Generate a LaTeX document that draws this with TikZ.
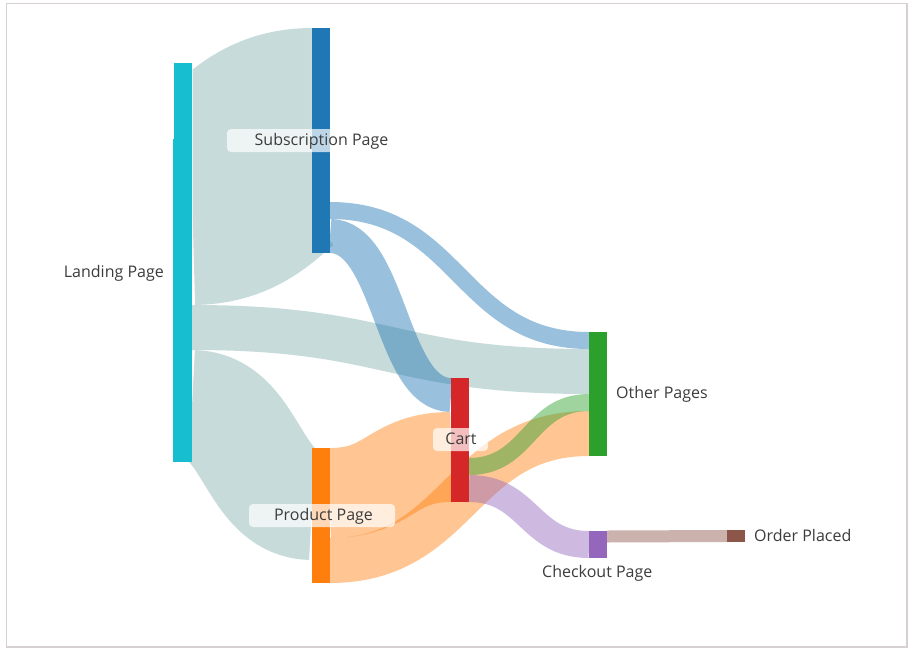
\documentclass[tikz,border=0pt]{standalone}
\usepackage{fontspec}
\setmainfont{Open Sans}
\definecolor{cland}{HTML}{17BECF}
\definecolor{csub}{HTML}{1F77B4}
\definecolor{cprod}{HTML}{FF7F0E}
\definecolor{ccart}{HTML}{D62728}
\definecolor{cother}{HTML}{2CA02C}
\definecolor{cchk}{HTML}{9467BD}
\definecolor{cord}{HTML}{8C564B}
\definecolor{cgreyl}{RGB}{133,177,175}
\definecolor{cgreymix}{RGB}{200,220,219}
\definecolor{ctxt}{RGB}{60,60,60}
\definecolor{cframe}{RGB}{214,208,211}
\tikzset{
  linkband/.style={draw=#1, draw opacity=0.45, line cap=butt, line join=round},
  nodebar/.style={fill=#1, draw=none},
  lbl/.style={text=ctxt, font=\fontsize{16}{19}\selectfont, inner sep=0pt},
  lblbox/.style={fill=white, fill opacity=0.7, draw=none, rounded corners=4pt},
}
\begin{document}
\begin{tikzpicture}[x=1pt,y=-1pt]
\useasboundingbox (0,0) rectangle (914,649);
\fill[white] (0,0) rectangle (914,649);
\draw[cframe, line width=1.3pt] (6.5,3.5) rectangle (907,647);

% ---- link end points (band centres) ----
\coordinate (ls) at (192,192.5);  \coordinate (st) at (312,140.5);
\coordinate (stx) at (320,140.5);
\coordinate (lo) at (192,327.5);  \coordinate (ol) at (589,371.5);
\coordinate (lp) at (192,406);    \coordinate (pl) at (312,504);
\coordinate (so) at (330,210.5);  \coordinate (os) at (589,340.5);
\coordinate (sc) at (330,236);    \coordinate (cs) at (451,395);
\coordinate (pc) at (330,493);    \coordinate (cp) at (451,457);
\coordinate (po) at (330,560.5);  \coordinate (op) at (589,433.5);
\coordinate (co) at (469,466.5);  \coordinate (oc) at (589,402.5);
\coordinate (ck) at (469,488.5);  \coordinate (kc) at (589,544.5);
\coordinate (kd) at (607,536.5);  \coordinate (dk) at (727,536);

% ---- links (stroked centre lines) ----
\begin{scope}
  \clip (192.5,0) rectangle (914,649);
  \draw[linkband=cgreyl, line width=225pt] (ls) .. controls (252,192.5) and (252,140.5) .. (st) -- (stx);
\end{scope}
\fill[cgreymix] (305,28.6) rectangle (313,132);
\draw[linkband=cgreyl, line width=45pt] (lo) .. controls (390.5,327.5) and (390.5,371.5) .. (ol);
\draw[linkband=cgreyl, line width=112pt] (lp) .. controls (252,406) and (252,504) .. (pl);
\draw[linkband=csub, line width=17pt] (so) .. controls (459.5,210.5) and (459.5,340.5) .. (os);
\draw[linkband=csub, line width=34pt] (sc) .. controls (390.5,236) and (390.5,395) .. (cs);
\draw[linkband=cprod, line width=90pt] (pc) .. controls (390.5,493) and (390.5,457) .. (cp);
\draw[linkband=cprod, line width=45pt] (po) .. controls (459.5,560.5) and (459.5,433.5) .. (op);
\draw[linkband=cother, line width=17pt] (co) .. controls (529,466.5) and (529,402.5) .. (oc);
\draw[linkband=cchk, line width=27pt] (ck) .. controls (529,488.5) and (529,544.5) .. (kc);
\draw[linkband=cord, line width=12pt] (kd) .. controls (667,536.5) and (667,536) .. (dk);

% ---- nodes ----
\path[nodebar=cland] (174,63) rectangle (192,139);
\path[nodebar=cland] (173,139) rectangle (192,462);
\node[inner sep=0pt] (land) at (182.5,262.5) {};
\path[nodebar=csub] (312,28) rectangle (330,253);
\node[inner sep=0pt] (sub) at (321,140.5) {};
\path[nodebar=cprod] (312,448) rectangle (330,583);
\node[inner sep=0pt] (prod) at (321,515.5) {};
\path[nodebar=ccart] (451,378) rectangle (469,502);
\node[inner sep=0pt] (cart) at (460,440) {};
\path[nodebar=cother] (589,332) rectangle (607,456);
\node[inner sep=0pt] (other) at (598,394) {};
\path[nodebar=cchk] (589,531) rectangle (607,558);
\node[inner sep=0pt] (chk) at (598,544.5) {};
\path[nodebar=cord] (727,530) rectangle (745,542);
\node[inner sep=0pt] (ord) at (736,536) {};

% ---- label boxes ----
\path[lblbox] (227,129) rectangle (416,152);
\path[lblbox] (249,504) rectangle (395,527);
\path[lblbox] (433,428) rectangle (488,451);

% ---- labels ----
\node[lbl, anchor=base east] (tland) at (164,277) {Landing Page};
\node[lbl, anchor=base] (tsub) at (321.5,145) {Subscription Page};
\node[lbl, anchor=base] (tprod) at (323.5,520) {Product Page};
\node[lbl, anchor=base] (tcart) at (461,444.3) {Cart};
\node[lbl, anchor=base west] (tother) at (616,398) {Other Pages};
\node[lbl, anchor=base west] (tchk) at (542,577) {Checkout Page};
\node[lbl, anchor=base west] (tord) at (754,541) {Order Placed};
\end{tikzpicture}
\end{document}
